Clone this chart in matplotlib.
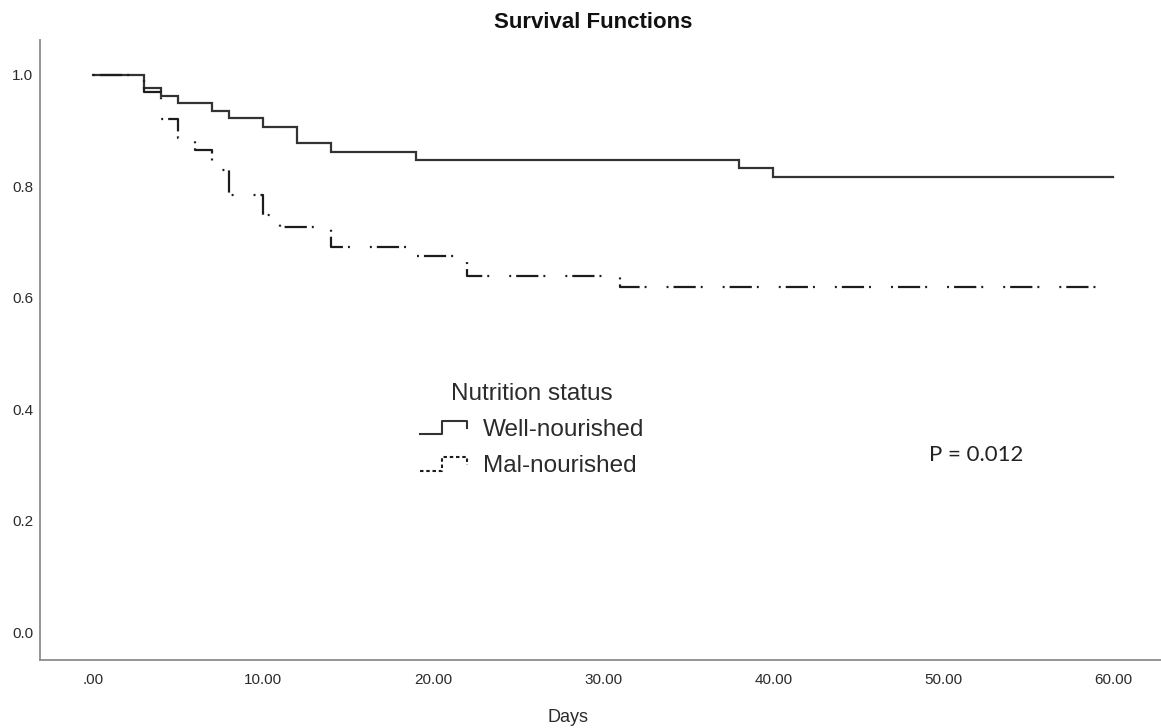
import numpy as np
import matplotlib
matplotlib.use("Agg")
import matplotlib.pyplot as plt
from matplotlib.lines import Line2D
from matplotlib.legend_handler import HandlerBase

# ---- data ----
well_days = [0, 3, 4, 5, 7, 8, 10, 12, 14, 19, 38, 40, 60]
well_surv = [1.0, 0.976, 0.961, 0.949, 0.935, 0.922, 0.906, 0.877, 0.861, 0.847, 0.832, 0.816, 0.816]

mal_days = [0, 3, 4, 5, 6, 7, 8, 10, 11, 14, 19, 22, 31, 60]
mal_surv = [1.0, 0.969, 0.920, 0.886, 0.865, 0.829, 0.784, 0.748, 0.726, 0.691, 0.674, 0.639, 0.619, 0.619]

x_ticks = [0, 10, 20, 30, 40, 50, 60]
x_tick_labels = [".00", "10.00", "20.00", "30.00", "40.00", "50.00", "60.00"]
y_ticks = [0.0, 0.2, 0.4, 0.6, 0.8, 1.0]
y_tick_labels = ["0.0", "0.2", "0.4", "0.6", "0.8", "1.0"]

series_labels = ["Well-nourished", "Mal-nourished"]
legend_title = "Nutrition status"
p_text = "P = 0.012"

plt.rcParams["font.family"] = ["Liberation Sans", "DejaVu Sans"]
plt.rcParams["lines.scale_dashes"] = False

W, H = 1161, 728
fig = plt.figure(figsize=(W / 100, H / 100), dpi=100)
ax = fig.add_axes([40 / W, 1 - 660 / H, 1 - 40 / W, (660 - 40) / H])

well_color = "#333333"
mal_color = "#1c1c1c"
ax.step(well_days, well_surv, where="post", color=well_color, lw=1.6, solid_joinstyle="miter")
mal_line, = ax.step(mal_days, mal_surv, where="post", color=mal_color, lw=1.6)
mal_line.set_dashes([1.4, 3.6, 16, 3.6, 1.4, 14.4])

ax.set_xlim(-3.12, 62.8)
ax.set_ylim(-0.05, 1.062)
ax.set_xticks(x_ticks)
ax.set_xticklabels(x_tick_labels)
ax.set_yticks(y_ticks)
ax.set_yticklabels(y_tick_labels)
ax.tick_params(axis="both", length=0, labelsize=11, labelcolor="#2b2b2b")
ax.tick_params(axis="x", pad=9)
ax.tick_params(axis="y", pad=5)
for s in ["top", "right"]:
    ax.spines[s].set_visible(False)
for s in ["left", "bottom"]:
    ax.spines[s].set_color("#8c8c8c")
    ax.spines[s].set_linewidth(1.3)

ax.set_xlabel("Days", fontsize=13, color="#2b2b2b")
ax.xaxis.set_label_coords((568 - 40) / (W - 40), -(717 - 660) / (660 - 40))
ax.xaxis.label.set_va("center")

fig.text(593 / W, 1 - 22 / H, "Survival Functions", ha="center", va="center",
         fontsize=16, fontweight="bold", color="#111111")

fig.text(929 / W, 1 - 455 / H, p_text, ha="left", va="center", fontsize=16,
         family=["Lato", "DejaVu Sans"], color="#222222")


class StepHandler(HandlerBase):
    def create_artists(self, legend, orig_handle, xdescent, ydescent, width,
                       height, fontsize, trans):
        fx = np.array([0.0, 0.46, 0.46, 0.96, 0.96])
        fy = np.array([0.1, 0.1, 0.9, 0.9, 0.45])
        line = Line2D(fx * width - xdescent, fy * height - ydescent)
        self.update_prop(line, orig_handle, legend)
        line.set_transform(trans)
        return [line]


h_well = Line2D([], [], color=well_color, lw=1.5)
h_mal = Line2D([], [], color=mal_color, lw=1.5, ls=(0, (2.5, 2.0)))
leg = ax.legend(handles=[h_well, h_mal], labels=series_labels, title=legend_title,
                loc="upper left", bbox_to_anchor=(420 / W, 1 - 383 / H),
                bbox_transform=fig.transFigure, frameon=False,
                fontsize=17.5, title_fontsize=17.5, handlelength=2.0,
                handleheight=0.7, handletextpad=0.6, labelspacing=0.58,
                borderpad=0, borderaxespad=0,
                handler_map={Line2D: StepHandler()})
for t in leg.get_texts():
    t.set_color("#2b2b2b")
leg.get_title().set_color("#2b2b2b")

fig.savefig("out.png", dpi=100, facecolor="white")
